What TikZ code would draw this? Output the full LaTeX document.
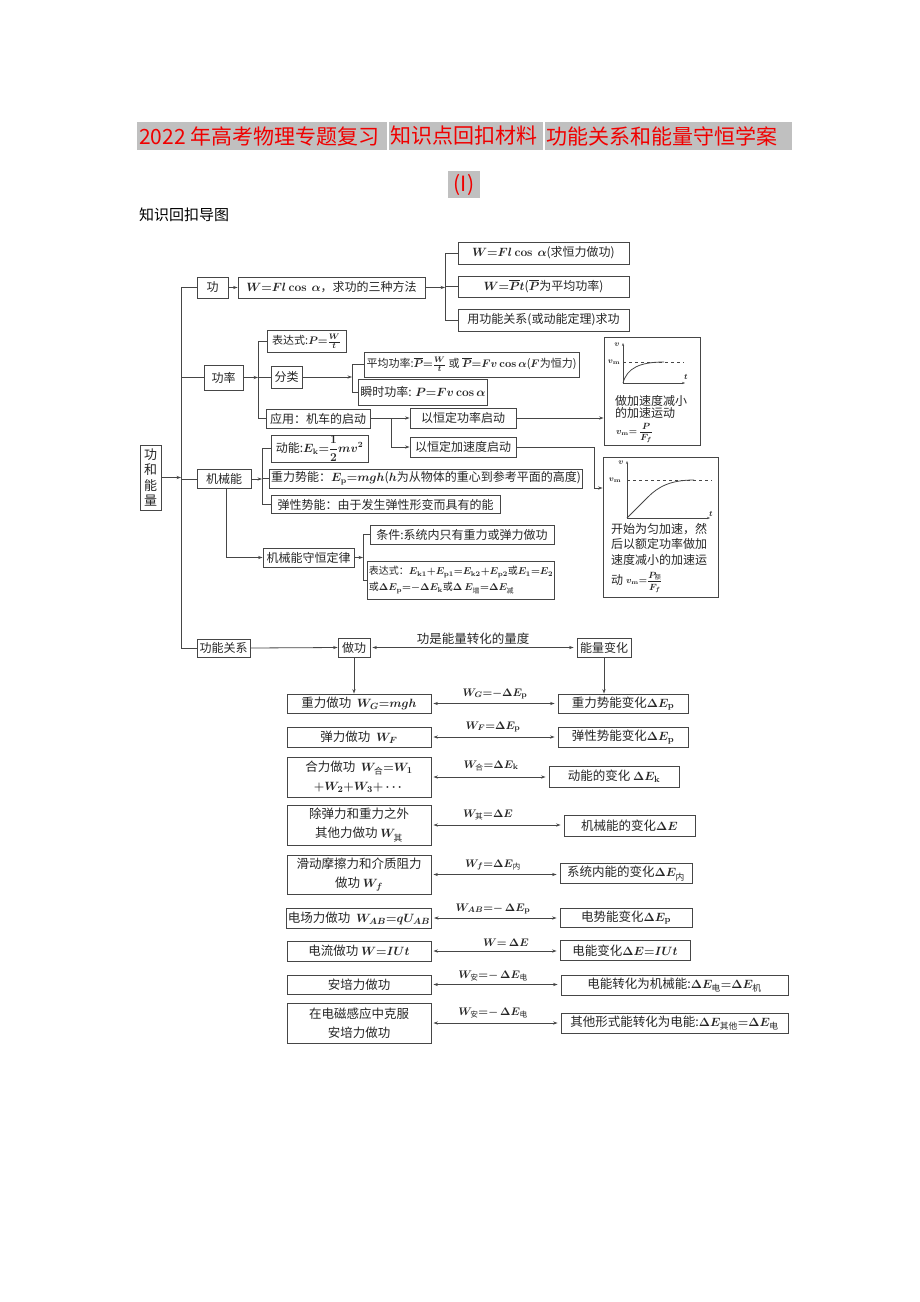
\documentclass[tikz,border=0pt]{standalone}
\usepackage{amsmath}
\usepackage[no-math]{fontspec}
\setmainfont{Noto Sans CJK SC}
\usetikzlibrary{arrows.meta}
\definecolor{lc}{RGB}{70,70,70}
\definecolor{hl}{RGB}{192,192,192}
\definecolor{tred}{RGB}{240,0,0}
\newcommand\fsz[2]{\fontsize{#1}{#2}\selectfont}
\begin{document}
\begin{tikzpicture}[x=1pt,y=-1pt,
  bx/.style={draw=lc, line width=0.9pt, inner sep=1.5pt, font=\fsz{12}{16}\boldmath, align=center, text=black!85},
  bb/.style={bx, minimum width=144, font=\fsz{12.5}{19}\boldmath},
  rb/.style={bx, font=\fsz{12.5}{16}\boldmath},
  ln/.style={draw=lc, line width=0.8pt},
  arr/.style={ln, -{Stealth[length=4.5pt,width=3.2pt]}},
  darr/.style={ln, {Stealth[length=4.5pt,width=3.2pt]}-{Stealth[length=4.5pt,width=3.2pt]}, shorten <=2pt, shorten >=3pt},
  ax/.style={draw=lc, line width=0.7pt, -{Stealth[length=3pt,width=2.2pt]}},
  lab/.style={font=\fsz{11}{13}\boldmath, inner sep=1pt, text=black!85},
  gl/.style={font=\fsz{8}{9}\boldmath, inner sep=0pt, text=black!85},
  ttl/.style={font=\fsz{21}{24}, text=tred, inner sep=0pt, anchor=west}
]
\fill[white] (0,0) rectangle (920,1302);
\useasboundingbox (0,0) rectangle (920,1302);

% title
\fill[hl] (137,122) rectangle (387,150);
\fill[hl] (389,122) rectangle (543,150);
\fill[hl] (545,122) rectangle (792,150);
\node[ttl] (t1) at (139,136) {2022 年高考物理专题复习};
\node[ttl] (t2) at (390,136) {知识点回扣材料};
\node[ttl] (t3) at (546,136) {功能关系和能量守恒学案};
\fill[hl] (448,171) rectangle (480,198);
\node[ttl, anchor=center] (t4) at (464,185) {(I)};
\node[anchor=west, font=\fsz{15}{18}, inner sep=0pt] (sub) at (139,215) {知识回扣导图};

% top section
\node[bx,minimum width=31,minimum height=21] (gong) at (212.5,287.5) {功};
\node[bx,minimum width=187,minimum height=21] (fa) at (331.5,287.5) {$W{=}Fl\cos\ \alpha$，求功的三种方法};
\node[bx,minimum width=171,minimum height=22] (m1) at (543.5,253) {$W{=}Fl\cos\ \alpha$(求恒力做功)};
\node[bx,minimum width=171,minimum height=21] (m2) at (543.5,286.5) {$W{=}\overline{P}t$($\overline{P}$为平均功率)};
\node[bx,minimum width=171,minimum height=22] (m3) at (543.5,320) {用功能关系(或动能定理)求功};

\node[bx,minimum width=39,minimum height=25] (gonglv) at (223.5,377.5) {功率};
\node[bx,minimum width=79,minimum height=22,inner sep=1pt,font=\fsz{11}{14}\boldmath] (bds) at (306.5,341.5) {表达式:$P{=}\frac{W}{t}$};
\node[bx,minimum width=31,minimum height=22] (fl) at (286.5,377) {分类};
\node[bx,minimum width=215,minimum height=25,inner sep=0.5pt,font=\fsz{11}{14}\boldmath] (pj) at (471.5,364.5) {平均功率:$\overline{P}{=}\frac{W}{t}$ 或 $\overline{P}{=}Fv\cos\alpha$($F$为恒力)};
\node[bx,minimum width=118,minimum height=26] (ss) at (423,392) {瞬时功率: $P{=}Fv\cos\alpha$};
\node[bx,minimum width=104,minimum height=19] (yy) at (318,418.5) {应用：机车的启动};
\node[bx,minimum width=106,minimum height=20] (hgl) at (463,418) {以恒定功率启动};
\node[bx,minimum width=106,minimum height=20] (hjs) at (463,447) {以恒定加速度启动};

\node[bx,minimum width=21,minimum height=65,inner sep=0pt,font=\fsz{13}{15.5}] (root) at (150.5,477.5) {功\\和\\能\\量};
\node[bx,minimum width=54,minimum height=19] (jxn) at (224,479) {机械能};
\node[bx,minimum width=97,minimum height=27,inner sep=0.5pt] (dn) at (319.5,448.5) {动能:$E_{\rm k}{=}\dfrac{1}{2}mv^2$};
\node[bx,minimum width=310,minimum height=19] (zl) at (426,478.5) {重力势能：$E_{\rm p}{=}mgh$($h$为从物体的重心到参考平面的高度)};
\node[bx,minimum width=229,minimum height=18] (tx) at (385.5,504.5) {弹性势能：由于发生弹性形变而具有的能};
\node[bx,minimum width=91,minimum height=19] (sh) at (308.5,557.5) {机械能守恒定律};
\node[bx,minimum width=184,minimum height=19] (tj) at (462,534.5) {条件:系统内只有重力或弹力做功};
\node[bx,minimum width=184,minimum height=38,align=left,inner sep=1pt,font=\fsz{10}{16}\boldmath] (bd2) at (461,580) {表达式：$E_{\rm k1}{+}E_{\rm p1}{=}E_{\rm k2}{+}E_{\rm p2}$或$E_1{=}E_2$\\或$\Delta E_{\rm p}{=}{-}\Delta E_{\rm k}$或$\Delta\, E_{\text{增}}{=}\Delta E_{\text{减}}$};

% graphs
\node[bx,minimum width=96,minimum height=108] (G1) at (652,391) {};
\node[bx,minimum width=115,minimum height=140] (G2) at (660.5,527) {};

% 功能关系 row
\node[bx,minimum width=53,minimum height=18] (gn) at (223.5,648) {功能关系};
\node[bx,minimum width=32,minimum height=19] (zg) at (354,647.5) {做功};
\node[bx,minimum width=54,minimum height=19] (nl) at (604,647.5) {能量变化};

% bottom left
\node[bb,minimum height=19] (L1) at (359,703.5) {重力做功\ \ $W_G{=}mgh$};
\node[bb,minimum height=20] (L2) at (359,737) {弹力做功\ \ $W_F$};
\node[bb,minimum height=40] (L3) at (359,777) {合力做功\ \ $W_{\text{合}}{=}W_1$\\$+W_2{+}W_3{+}\cdots$};
\node[bb,minimum height=40] (L4) at (359,825) {除弹力和重力之外\\其他力做功\ $W_{\text{其}}$};
\node[bb,minimum height=39] (L5) at (359,874.5) {滑动摩擦力和介质阻力\\做功\ $W_f$};
\node[bb,minimum height=20] (L6) at (359,918) {电场力做功\ \ $W_{AB}{=}qU_{AB}$};
\node[bb,minimum height=20] (L7) at (359,951) {电流做功 $W{=}IUt$};
\node[bb,minimum height=19] (L8) at (359,984.5) {安培力做功};
\node[bb,minimum height=40] (L9) at (359,1023) {在电磁感应中克服\\安培力做功};

% bottom right
\node[rb,minimum width=130,minimum height=19] (R1) at (623,703.5) {重力势能变化$\Delta E_{\rm p}$};
\node[rb,minimum width=130,minimum height=20] (R2) at (623,737) {弹性势能变化$\Delta E_{\rm p}$};
\node[rb,minimum width=130,minimum height=21] (R3) at (614,776.5) {动能的变化 $\Delta E_{\rm k}$};
\node[rb,minimum width=131,minimum height=21] (R4) at (629.5,825.5) {机械能的变化$\Delta E$};
\node[rb,minimum width=132,minimum height=20] (R5) at (626,873.5) {系统内能的变化$\Delta E_{\text{内}}$};
\node[rb,minimum width=132,minimum height=19] (R6) at (626,917.5) {电势能变化$\Delta E_{\rm p}$};
\node[rb,minimum width=130,minimum height=20] (R7) at (625,950.5) {电能变化$\Delta E{=}IUt$};
\node[rb,minimum width=227,minimum height=20] (R8) at (674.5,985) {电能转化为机械能:$\Delta E_{\text{电}}{=}\Delta E_{\text{机}}$};
\node[rb,minimum width=227,minimum height=20] (R9) at (674.5,1023) {其他形式能转化为电能:$\Delta E_{\text{其他}}{=}\Delta E_{\text{电}}$};

% labels
\node[lab] (lb1) at (495,694) {$W_G{=}{-}\Delta E_{\rm p}$};
\node[lab] (lb2) at (493,727) {$W_F{=}\Delta E_{\rm p}$};
\node[lab] (lb3) at (491,766) {$W_{\text{合}}{=}\Delta E_{\rm k}$};
\node[lab] (lb4) at (488,815) {$W_{\text{其}}{=}\Delta E$};
\node[lab] (lb5) at (493,865) {$W_f{=}\Delta E_{\text{内}}$};
\node[lab] (lb6) at (493,909) {$W_{AB}{=}{-}\,\Delta E_{\rm p}$};
\node[lab] (lb7) at (506,943) {$W{=}\,\Delta E$};
\node[lab] (lb8) at (493,976) {$W_{\text{安}}{=}{-}\,\Delta E_{\text{电}}$};
\node[lab] (lb9) at (493,1013) {$W_{\text{安}}{=}{-}\,\Delta E_{\text{电}}$};
\node[font=\fsz{12.5}{14}, inner sep=0pt, text=black!85] (lbt) at (473,639) {功是能量转化的量度};

% connectors: main tree
\coordinate (J1) at (181,0);
\coordinate (J2) at (445,0);
\coordinate (J3) at (258,0);
\coordinate (J4) at (352,0);
\coordinate (J5) at (391,0);
\coordinate (J7) at (262,0);
\coordinate (J9) at (363,0);
\coordinate (K) at (594,488);

\draw[arr] (root.east) -- (J1 |- root.east);
\draw[ln] (J1 |- gong.west) -- (J1 |- gn.west);
\draw[ln] (J1 |- gong.west) -- (gong.west);
\draw[ln] (J1 |- gonglv.west) -- (gonglv.west);
\draw[ln] (J1 |- jxn.west) -- (jxn.west);
\draw[ln] (J1 |- gn.west) -- (gn.west);

\draw[arr] (gong.east) -- (fa.west);
\draw[arr] (fa.east) -- (J2 |- fa.east);
\draw[ln] (J2 |- m1.west) -- (J2 |- m3.west);
\draw[ln] (J2 |- m1.west) -- (m1.west);
\draw[ln] (J2 |- m2.west) -- (m2.west);
\draw[ln] (J2 |- m3.west) -- (m3.west);

\draw[arr] (gonglv.east) -- (J3 |- gonglv.east);
\draw[ln] (J3 |- bds.west) -- (J3 |- yy.west);
\draw[ln] (J3 |- bds.west) -- (bds.west);
\draw[ln] (J3 |- fl.west) -- (fl.west);
\draw[ln] (J3 |- yy.west) -- (yy.west);

\draw[arr] (fl.east) -- (J4 |- fl.east);
\draw[ln] (J4 |- pj.west) -- (J4 |- ss.west);
\draw[ln] (J4 |- pj.west) -- (pj.west);
\draw[ln] (J4 |- ss.west) -- (ss.west);

\draw[ln] (yy.east) -- (J5 |- yy.east);
\draw[ln] (J5 |- hgl.west) -- (J5 |- hjs.west);
\draw[arr] (J5 |- hgl.west) -- (hgl.west);
\draw[arr] (J5 |- hjs.west) -- (hjs.west);

\draw[arr] (hgl.east) -- (hgl.east -| G1.west);
\draw[arr] (hjs.east) -| (K) -- (K -| G2.west);

\draw[arr] (jxn.east) -- (J7 |- jxn.east);
\draw[ln] (J7 |- dn.west) -- (J7 |- tx.west);
\draw[ln] (J7 |- dn.west) -- (dn.west);
\draw[ln] (J7 |- zl.west) -- (zl.west);
\draw[ln] (J7 |- tx.west) -- (tx.west);

\draw[arr] ([xshift=2pt]jxn.south) |- (sh.west);
\draw[arr] (sh.east) -- (J9 |- sh.east);
\draw[ln] (J9 |- tj.west) -- (J9 |- bd2.west);
\draw[ln] (J9 |- tj.west) -- (tj.west);
\draw[ln] (J9 |- bd2.west) -- (bd2.west);

\draw[arr] (gn.east) -- (zg.west);
\draw[darr] (zg.east) -- (nl.west);
\draw[arr] (zg.south) -- (zg.south |- L1.north);
\draw[arr] (nl.south) -- (nl.south |- R1.north);

\foreach \i in {1,...,9}{
  \draw[darr] (L\i.east) -- (L\i.east -| R\i.west);
}

% graph 1
\draw[ax] (623,383) -- (623,343);
\draw[ax] (623,383) -- (685,383);
\draw[lc, dashed, line width=0.6pt] (623,362) -- (684,362);
\draw[lc, line width=0.8pt] (623,383) .. controls (627,368) and (640,362) .. (664,362);
\node[gl] at (617,345) {$v$};
\node[gl] at (614,362) {$v_{\rm m}$};
\node[gl] at (686,377) {$t$};
\node[anchor=west, align=left, font=\fsz{12}{12.5}, inner sep=0pt, text=black!85] at (615,407) {做加速度减小\\的加速运动};
\node[anchor=west, font=\fsz{9}{11}\boldmath, inner sep=0pt, text=black!85] at (616,433) {$v_{\rm m}{=}\ \dfrac{P}{F_f}$};

% graph 2
\draw[ax] (627,518) -- (627,461);
\draw[ax] (627,518) -- (710,518);
\draw[lc, dashed, line width=0.6pt] (627,480) -- (712,480);
\draw[lc, line width=0.8pt] (627,518) -- (648,497) .. controls (658,487) and (670,480) .. (694,480);
\node[gl] at (621,463) {$v$};
\node[gl] at (615,480) {$v_{\rm m}$};
\node[gl] at (711,514) {$t$};
\node[anchor=north west, align=left, font=\fsz{12}{15.5}, inner sep=0pt, text=black!85] at (611,523) {开始为匀加速，然\\后以额定功率做加\\速度减小的加速运};
\node[anchor=west, font=\fsz{12}{14}, inner sep=0pt, text=black!85] (dong) at (611,580) {动};
\node[anchor=west, font=\fsz{9}{11}\boldmath, inner sep=0pt, text=black!85] at (626,582) {$v_{\rm m}{=}\dfrac{P_{\text{额}}}{F_f}$};
\end{tikzpicture}
\end{document}
